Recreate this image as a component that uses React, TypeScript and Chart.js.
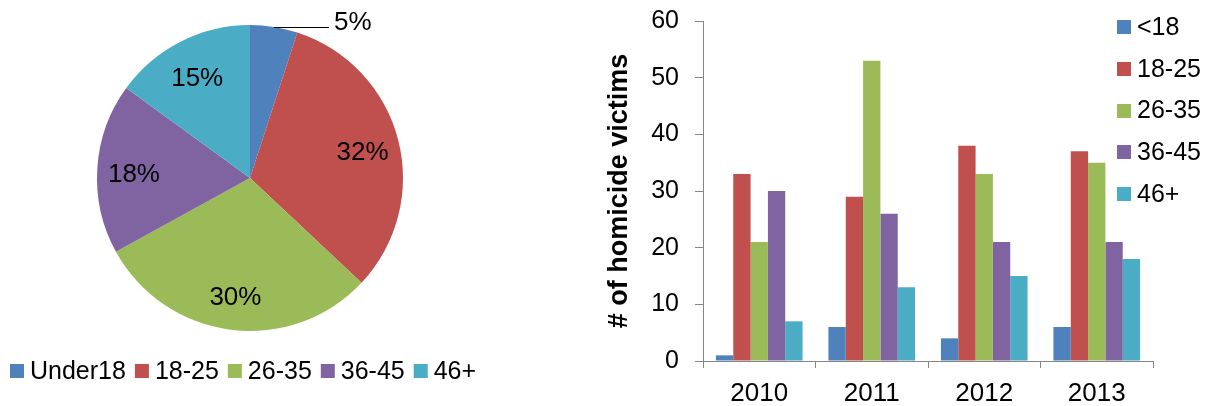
import React, { useEffect, useRef } from "react";
import { Chart, registerables } from "chart.js";

Chart.register(...registerables);

const FONT = '"Liberation Sans", Arial, Helvetica, sans-serif';

// ---- Pie data ----
const pieLabels = ["Under18", "18-25", "26-35", "36-45", "46+"];
const pieValues = [5, 32, 30, 18, 15];

// ---- Bar data ----
const years = ["2010", "2011", "2012", "2013"];
const barSeriesNames = ["<18", "18-25", "26-35", "36-45", "46+"];
const under18 = [1, 6, 4, 6];
const age18to25 = [33, 29, 38, 37];
const age26to35 = [21, 53, 33, 35];
const age36to45 = [30, 26, 21, 21];
const age46plus = [7, 13, 15, 18];
const yTickValues = [0, 10, 20, 30, 40, 50, 60];
const yTitle = "# of homicide victims";

const seriesColors = ["#4F81BD", "#C0504D", "#9BBB59", "#8064A2", "#4BACC6"];

const customLegend = {
  id: "customLegend",
  afterDraw(chart: any, _args: any, opts: any) {
    if (!opts || !opts.enabled) return;
    const ctx = chart.ctx as CanvasRenderingContext2D;
    let items: { text: string; color: string }[] = [];
    if (opts.source === "labels") {
      const ds = chart.data.datasets[0];
      items = chart.data.labels.map((l: string, i: number) => ({ text: l, color: ds.backgroundColor[i] }));
    } else {
      items = chart.data.datasets.map((d: any) => ({ text: d.label, color: d.backgroundColor }));
    }
    ctx.save();
    ctx.font = `${opts.fontSize}px ${FONT}`;
    ctx.textBaseline = "middle";
    ctx.textAlign = "left";
    const box = opts.box;
    let x = opts.x;
    let y = opts.y;
    items.forEach((it) => {
      ctx.fillStyle = it.color;
      ctx.fillRect(x, Math.round(y - box / 2), box, box);
      ctx.fillStyle = "#000";
      ctx.fillText(it.text, x + box + opts.gap, y + 1);
      if (opts.direction === "row") {
        x += box + opts.gap + ctx.measureText(it.text).width + opts.itemGap;
      } else {
        y += opts.spacing;
      }
    });
    ctx.restore();
  },
};

const pieValueLabels = {
  id: "pieValueLabels",
  afterDatasetsDraw(chart: any) {
    if (chart.config.type !== "pie") return;
    const meta = chart.getDatasetMeta(0);
    const ctx = chart.ctx as CanvasRenderingContext2D;
    const values = chart.data.datasets[0].data as number[];
    ctx.save();
    ctx.font = `26px ${FONT}`;
    ctx.fillStyle = "#000";
    ctx.textBaseline = "middle";
    meta.data.forEach((arc: any, i: number) => {
      const p = arc.getProps(["x", "y", "startAngle", "endAngle", "outerRadius"], true);
      const mid = (p.startAngle + p.endAngle) / 2;
      const text = `${values[i]}%`;
      if (values[i] < 8) {
        const ex = p.x + Math.cos(mid) * p.outerRadius;
        const ey = p.y + Math.sin(mid) * p.outerRadius;
        const lx = ex + 55;
        ctx.strokeStyle = "#000";
        ctx.lineWidth = 1;
        ctx.beginPath();
        ctx.moveTo(ex, Math.round(ey) + 0.5);
        ctx.lineTo(lx, Math.round(ey) + 0.5);
        ctx.stroke();
        ctx.textAlign = "left";
        ctx.fillText(text, lx + 5, ey - 4);
      } else {
        const r = p.outerRadius * 0.76;
        ctx.textAlign = "center";
        ctx.fillText(text, p.x + Math.cos(mid) * r, p.y + Math.sin(mid) * r + 4);
      }
    });
    ctx.restore();
  },
};

export default function App() {
  const pieRef = useRef<HTMLCanvasElement>(null);
  const barRef = useRef<HTMLCanvasElement>(null);

  useEffect(() => {
    document.body.style.margin = "0";
    Chart.defaults.font.family = FONT;
    Chart.defaults.color = "#000";

    const pie = new Chart(pieRef.current!, {
      type: "pie",
      data: {
        labels: pieLabels,
        datasets: [
          {
            data: pieValues,
            backgroundColor: seriesColors,
            borderWidth: 0,
            radius: 153,
          } as any,
        ],
      },
      options: {
        responsive: false,
        animation: false,
        layout: { padding: { top: 0, bottom: 50, left: 0, right: 0 } },
        plugins: {
          legend: { display: false },
          tooltip: { enabled: false },
          customLegend: {
            enabled: true,
            source: "labels",
            direction: "row",
            x: 10,
            y: 371,
            box: 14,
            gap: 6,
            itemGap: 9,
            fontSize: 25,
          },
        } as any,
      },
      plugins: [customLegend, pieValueLabels],
    });

    const barData = [under18, age18to25, age26to35, age36to45, age46plus];
    const bar = new Chart(barRef.current!, {
      type: "bar",
      data: {
        labels: years,
        datasets: barSeriesNames.map((name, i) => ({
          label: name,
          data: barData[i],
          backgroundColor: seriesColors[i],
          borderWidth: 0,
          categoryPercentage: 0.77,
          barPercentage: 1.0,
        })),
      },
      options: {
        responsive: false,
        animation: false,
        layout: { autoPadding: false, padding: { left: 43, top: 21, right: 59, bottom: 0 } },
        plugins: {
          legend: { display: false },
          tooltip: { enabled: false },
          customLegend: {
            enabled: true,
            source: "datasets",
            direction: "col",
            x: 557,
            y: 27,
            spacing: 41.8,
            box: 14,
            gap: 6,
            fontSize: 25,
          },
        } as any,
        scales: {
          x: {
            grid: {
              display: true,
              drawOnChartArea: false,
              drawTicks: true,
              tickLength: 7,
              color: "#868686",
              offset: true,
            },
            border: { color: "#868686", width: 1 },
            ticks: { font: { size: 26, family: FONT }, color: "#000", padding: 10 },
            afterFit: (s: any) => {
              s.height = 45;
              s.paddingLeft = 0;
              s.paddingRight = 0;
            },
          },
          y: {
            min: 0,
            max: 60,
            afterBuildTicks: (s: any) => {
              s.ticks = yTickValues.map((v) => ({ value: v }));
            },
            grid: {
              drawOnChartArea: false,
              drawTicks: true,
              tickLength: 8,
              color: "#868686",
            },
            border: { color: "#868686", width: 1 },
            ticks: { font: { size: 25, family: FONT }, color: "#000", padding: 16 },
            title: {
              display: true,
              text: yTitle,
              font: { size: 27, weight: "bold", family: FONT },
              color: "#000",
              padding: 0,
            },
            afterFit: (s: any) => {
              s.width = 100;
              s.paddingTop = 0;
              s.paddingBottom = 0;
            },
          },
        },
      } as any,
      plugins: [customLegend],
    });

    return () => {
      pie.destroy();
      bar.destroy();
    };
  }, []);

  return (
    <div style={{ position: "absolute", left: 0, top: 0, width: 1212, height: 406, background: "#fff", overflow: "hidden" }}>
      <div style={{ position: "absolute", left: 0, top: 0, width: 500, height: 406 }}>
        <canvas ref={pieRef} width={500} height={406} />
      </div>
      <div style={{ position: "absolute", left: 560, top: 0, width: 652, height: 406 }}>
        <canvas ref={barRef} width={652} height={406} />
      </div>
    </div>
  );
}
